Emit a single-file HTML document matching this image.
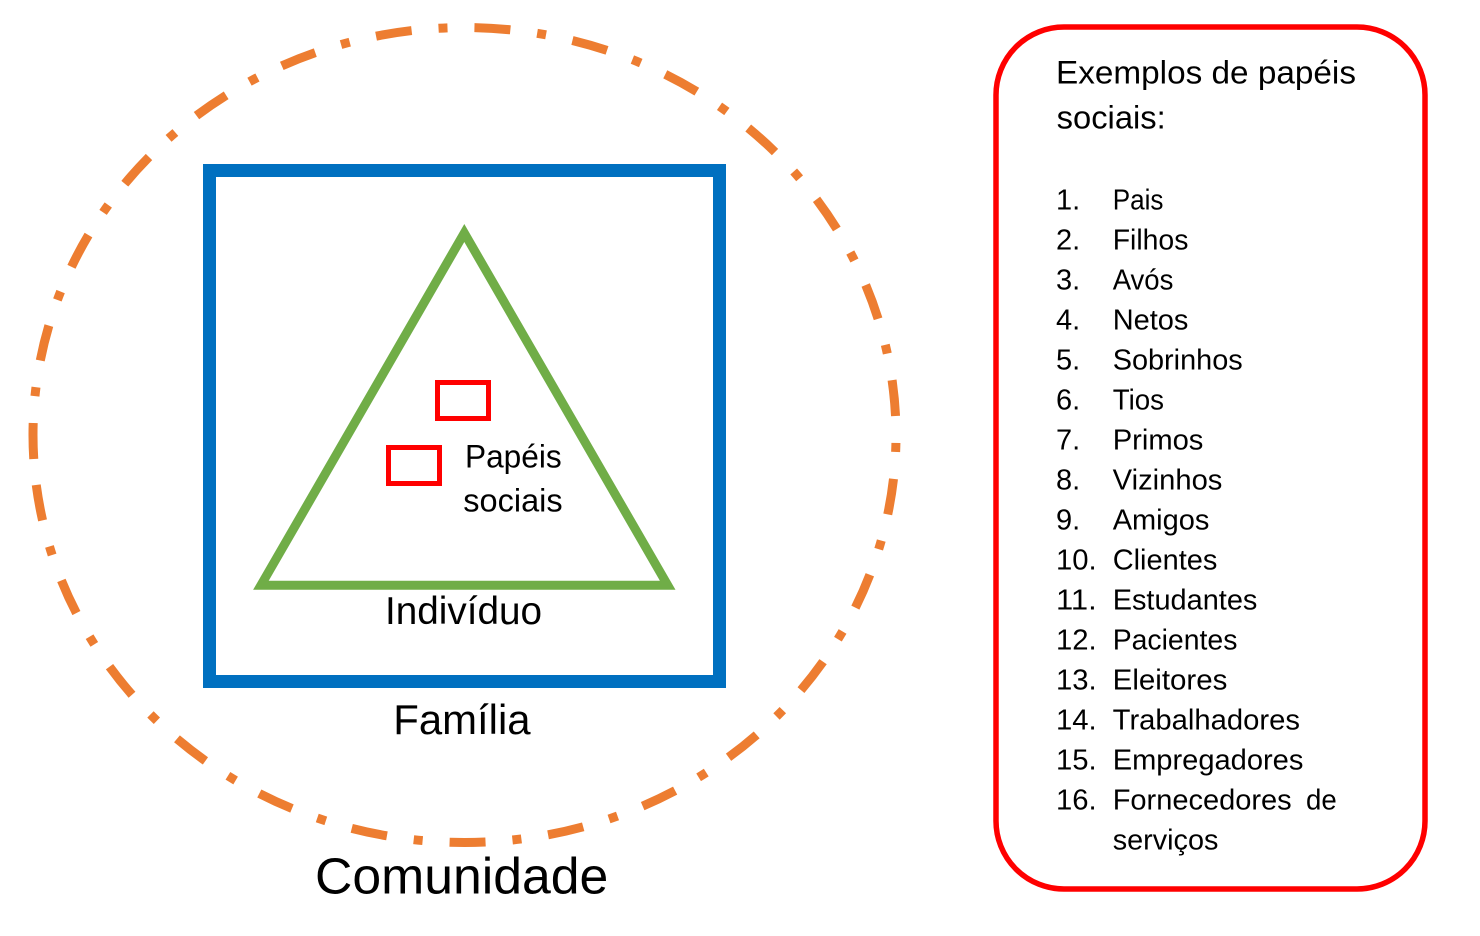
<!DOCTYPE html>
<html>
<head>
<meta charset="utf-8">
<style>
  html, body { margin: 0; padding: 0; background: #ffffff; }
  body { width: 1480px; height: 936px; overflow: hidden; }
  svg { display: block; }
  text { font-family: "Liberation Sans", Arial, sans-serif; fill: #000; }
</style>
</head>
<body>
<svg width="1480" height="936" viewBox="0 0 1480 936" xmlns="http://www.w3.org/2000/svg">
  <rect x="0" y="0" width="1480" height="936" fill="#ffffff"/>

  <!-- Comunidade: dash-dot ellipse -->
  <path d="M 33.75 459 A 431.5 407.5 0 0 1 464.5 27.5 A 431.5 407.5 0 0 1 896 435 A 431.5 407.5 0 0 1 464.5 842.5 A 431.5 407.5 0 0 1 33.75 459"
        fill="none" stroke="#ED7D31" stroke-width="9" stroke-dasharray="36 27 9 27" stroke-linecap="butt"/>

  <!-- Família: blue square -->
  <rect x="209.5" y="170.5" width="510" height="511" fill="none" stroke="#0070C0" stroke-width="13"/>

  <!-- Indivíduo: green triangle -->
  <polygon points="464.3,233 667.7,585.3 260.9,585.3" fill="none" stroke="#70AD47" stroke-width="9" stroke-linejoin="miter" stroke-miterlimit="10"/>

  <!-- Red small rectangles -->
  <rect x="437.5" y="382.5" width="51" height="36" fill="none" stroke="#FF0000" stroke-width="5"/>
  <rect x="388.5" y="447.5" width="51" height="36" fill="none" stroke="#FF0000" stroke-width="5"/>

  <!-- Labels -->
  <text x="465" y="467.3" font-size="32" textLength="96.7" lengthAdjust="spacingAndGlyphs">Papéis</text>
  <text x="463.3" y="511.7" font-size="32" textLength="99.3" lengthAdjust="spacingAndGlyphs">sociais</text>
  <text x="385" y="624" font-size="38.5" textLength="157" lengthAdjust="spacingAndGlyphs">Indivíduo</text>
  <text x="393.3" y="734" font-size="41.5" textLength="137.3" lengthAdjust="spacingAndGlyphs">Família</text>
  <text x="315" y="893.3" font-size="51" textLength="293.3" lengthAdjust="spacingAndGlyphs">Comunidade</text>

  <!-- Right box -->
  <rect x="996" y="27" width="429" height="862" rx="68" ry="68" fill="none" stroke="#FF0000" stroke-width="5.5"/>

  <text x="1056" y="83.3" font-size="32.5" textLength="300" lengthAdjust="spacingAndGlyphs">Exemplos de papéis</text>
  <text x="1056.7" y="128.3" font-size="32.5" textLength="109" lengthAdjust="spacingAndGlyphs">sociais:</text>

  <g font-size="29">
    <text x="1056" y="209.3">1.</text>
    <text x="1112.7" y="209.3" textLength="50.7" lengthAdjust="spacingAndGlyphs">Pais</text>
    <text x="1056" y="249.3">2.</text>
    <text x="1112.7" y="249.3" textLength="75.7" lengthAdjust="spacingAndGlyphs">Filhos</text>
    <text x="1056" y="289.3">3.</text>
    <text x="1112.7" y="289.3" textLength="60.7" lengthAdjust="spacingAndGlyphs">Avós</text>
    <text x="1056" y="329.3">4.</text>
    <text x="1112.7" y="329.3" textLength="75.7" lengthAdjust="spacingAndGlyphs">Netos</text>
    <text x="1056" y="369.3">5.</text>
    <text x="1112.7" y="369.3" textLength="130" lengthAdjust="spacingAndGlyphs">Sobrinhos</text>
    <text x="1056" y="409.3">6.</text>
    <text x="1112.7" y="409.3" textLength="51.3" lengthAdjust="spacingAndGlyphs">Tios</text>
    <text x="1056" y="449.3">7.</text>
    <text x="1112.7" y="449.3" textLength="90.7" lengthAdjust="spacingAndGlyphs">Primos</text>
    <text x="1056" y="489.3">8.</text>
    <text x="1112.7" y="489.3" textLength="109.7" lengthAdjust="spacingAndGlyphs">Vizinhos</text>
    <text x="1056" y="529.3">9.</text>
    <text x="1112.7" y="529.3" textLength="96.7" lengthAdjust="spacingAndGlyphs">Amigos</text>
    <text x="1056" y="569.3" textLength="40.7" lengthAdjust="spacingAndGlyphs">10.</text>
    <text x="1112.7" y="569.3" textLength="104.7" lengthAdjust="spacingAndGlyphs">Clientes</text>
    <text x="1056" y="609.3" textLength="40.7" lengthAdjust="spacingAndGlyphs">11.</text>
    <text x="1112.7" y="609.3" textLength="144.7" lengthAdjust="spacingAndGlyphs">Estudantes</text>
    <text x="1056" y="649.3" textLength="40.7" lengthAdjust="spacingAndGlyphs">12.</text>
    <text x="1112.7" y="649.3" textLength="124.7" lengthAdjust="spacingAndGlyphs">Pacientes</text>
    <text x="1056" y="689.3" textLength="40.7" lengthAdjust="spacingAndGlyphs">13.</text>
    <text x="1112.7" y="689.3" textLength="114.7" lengthAdjust="spacingAndGlyphs">Eleitores</text>
    <text x="1056" y="729.3" textLength="40.7" lengthAdjust="spacingAndGlyphs">14.</text>
    <text x="1112.7" y="729.3" textLength="187.3" lengthAdjust="spacingAndGlyphs">Trabalhadores</text>
    <text x="1056" y="769.3" textLength="40.7" lengthAdjust="spacingAndGlyphs">15.</text>
    <text x="1112.7" y="769.3" textLength="190.7" lengthAdjust="spacingAndGlyphs">Empregadores</text>
    <text x="1056" y="809.3" textLength="40.7" lengthAdjust="spacingAndGlyphs">16.</text>
    <text x="1112.7" y="809.3" textLength="179" lengthAdjust="spacingAndGlyphs">Fornecedores</text>
    <text x="1306" y="809.3" textLength="30.7" lengthAdjust="spacingAndGlyphs">de</text>
    <text x="1112.7" y="849.3" textLength="105.7" lengthAdjust="spacingAndGlyphs">serviços</text>
  </g>
</svg>
</body>
</html>
